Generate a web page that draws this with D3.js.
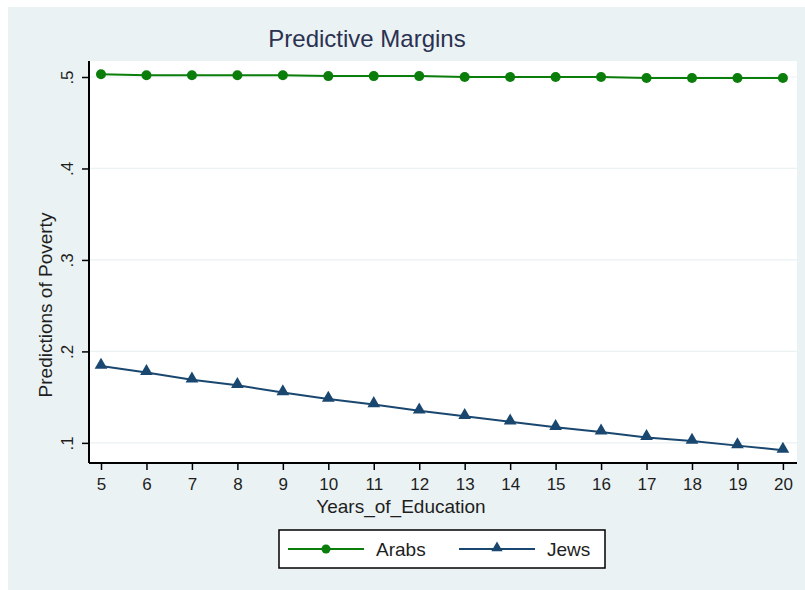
<!DOCTYPE html>
<html>
<head>
<meta charset="utf-8">
<script src="https://cdn.jsdelivr.net/npm/d3@7"></script>
<style>
  body { margin: 0; background: #fff; }
  svg { display: block; font-family: Arial, "Liberation Sans", sans-serif; }
</style>
</head>
<body>
<div id="chart"></div>
<script>
const years = [5, 6, 7, 8, 9, 10, 11, 12, 13, 14, 15, 16, 17, 18, 19, 20];
const arabs = [0.503, 0.502, 0.502, 0.502, 0.502, 0.501, 0.501, 0.501, 0.5, 0.5, 0.5, 0.5, 0.499, 0.499, 0.499, 0.499];
const jews = [0.184, 0.177, 0.169, 0.163, 0.155, 0.148, 0.142, 0.135, 0.129, 0.123, 0.117, 0.112, 0.106, 0.102, 0.097, 0.092];
const yTicks = [0.1, 0.2, 0.3, 0.4, 0.5];
const yTickLabels = [".1", ".2", ".3", ".4", ".5"];
const seriesNames = ["Arabs", "Jews"];

const width = 805, height = 590;
const bg = "#eaf2f3";
const green = "#0a7d0a";
const navy = "#1a476f";
const ink = "#1e1e1e";

const svg = d3.select("#chart")
  .append("svg")
  .attr("width", width)
  .attr("height", height);

// graph region background
svg.append("rect")
  .attr("x", 8).attr("y", 7)
  .attr("width", width - 8).attr("height", height - 7)
  .attr("fill", bg);

const plot = { left: 89, right: 797, top: 61, bottom: 463 };

svg.append("rect")
  .attr("x", plot.left).attr("y", plot.top)
  .attr("width", plot.right - plot.left).attr("height", plot.bottom - plot.top)
  .attr("fill", "#fff");

const x = d3.scaleLinear().domain([4.736, 20.31]).range([plot.left, plot.right]);
const y = d3.scaleLinear().domain([0.078, 0.5175]).range([plot.bottom, plot.top]);

// gridlines
svg.append("g")
  .selectAll("line")
  .data(yTicks)
  .join("line")
  .attr("x1", plot.left).attr("x2", plot.right)
  .attr("y1", d => y(d)).attr("y2", d => y(d))
  .attr("stroke", bg)
  .attr("stroke-width", 1.2);

// y axis
const yAxis = svg.append("g")
  .attr("transform", `translate(${plot.left},0)`)
  .call(d3.axisLeft(y).tickValues(yTicks).tickSize(7)
    .tickFormat((d, i) => yTickLabels[i]));
yAxis.select(".domain").attr("d", `M0,${plot.top}V${plot.bottom}`).attr("stroke", "#000").attr("stroke-width", 2);
yAxis.selectAll(".tick line").attr("stroke", "#000").attr("stroke-width", 1.5);
yAxis.selectAll(".tick text")
  .attr("font-size", 17)
  .attr("fill", ink)
  .attr("x", 0).attr("dy", 0)
  .attr("text-anchor", "middle")
  .attr("transform", "translate(-16,0) rotate(-90)");

// x axis
const xAxis = svg.append("g")
  .attr("transform", `translate(0,${plot.bottom})`)
  .call(d3.axisBottom(x).tickValues(years).tickSize(7).tickFormat(d3.format("d")));
xAxis.select(".domain").attr("d", `M${plot.left},0H${plot.right}`).attr("stroke", "#000").attr("stroke-width", 2);
xAxis.selectAll(".tick line").attr("stroke", "#000").attr("stroke-width", 1.5);
xAxis.selectAll(".tick text")
  .attr("font-size", 17)
  .attr("fill", ink)
  .attr("dy", 0)
  .attr("y", 27);

// lines
const line = d3.line().x((d, i) => x(years[i])).y(d => y(d));

svg.append("path").datum(arabs)
  .attr("d", line).attr("fill", "none")
  .attr("stroke", green).attr("stroke-width", 2);
svg.append("path").datum(jews)
  .attr("d", line).attr("fill", "none")
  .attr("stroke", navy).attr("stroke-width", 2);

const tri = d3.symbol().type(d3.symbolTriangle).size(70);

svg.append("g").selectAll("circle")
  .data(arabs)
  .join("circle")
  .attr("cx", (d, i) => x(years[i]))
  .attr("cy", d => y(d))
  .attr("r", 5)
  .attr("fill", green);

svg.append("g").selectAll("path")
  .data(jews)
  .join("path")
  .attr("d", tri)
  .attr("transform", (d, i) => `translate(${x(years[i])},${y(d) - 1})`)
  .attr("fill", navy);

// titles
svg.append("text")
  .attr("x", 367).attr("y", 47)
  .attr("text-anchor", "middle")
  .attr("font-size", 24)
  .attr("fill", "#2b3150")
  .text("Predictive Margins");

svg.append("text")
  .attr("x", 401).attr("y", 513)
  .attr("text-anchor", "middle")
  .attr("font-size", 19)
  .attr("fill", ink)
  .text("Years_of_Education");

svg.append("text")
  .attr("transform", "translate(52,305) rotate(-90)")
  .attr("text-anchor", "middle")
  .attr("font-size", 19)
  .attr("fill", ink)
  .text("Predictions of Poverty");

// legend
const legend = svg.append("g");
legend.append("rect")
  .attr("x", 279).attr("y", 530)
  .attr("width", 326).attr("height", 38)
  .attr("fill", "#fff")
  .attr("stroke", "#000")
  .attr("stroke-width", 1.5);

const legendItems = [
  { name: seriesNames[0], color: green, x0: 288, tx: 376, marker: "circle" },
  { name: seriesNames[1], color: navy, x0: 459, tx: 547, marker: "triangle" }
];
legendItems.forEach(it => {
  legend.append("line")
    .attr("x1", it.x0).attr("x2", it.x0 + 76)
    .attr("y1", 549).attr("y2", 549)
    .attr("stroke", it.color).attr("stroke-width", 2);
  if (it.marker === "circle") {
    legend.append("circle")
      .attr("cx", it.x0 + 38).attr("cy", 549).attr("r", 4.5)
      .attr("fill", it.color);
  } else {
    legend.append("path")
      .attr("d", d3.symbol().type(d3.symbolTriangle).size(55))
      .attr("transform", `translate(${it.x0 + 38},548)`)
      .attr("fill", it.color);
  }
  legend.append("text")
    .attr("x", it.tx).attr("y", 555.5)
    .attr("font-size", 19)
    .attr("fill", ink)
    .text(it.name);
});
</script>
</body>
</html>
